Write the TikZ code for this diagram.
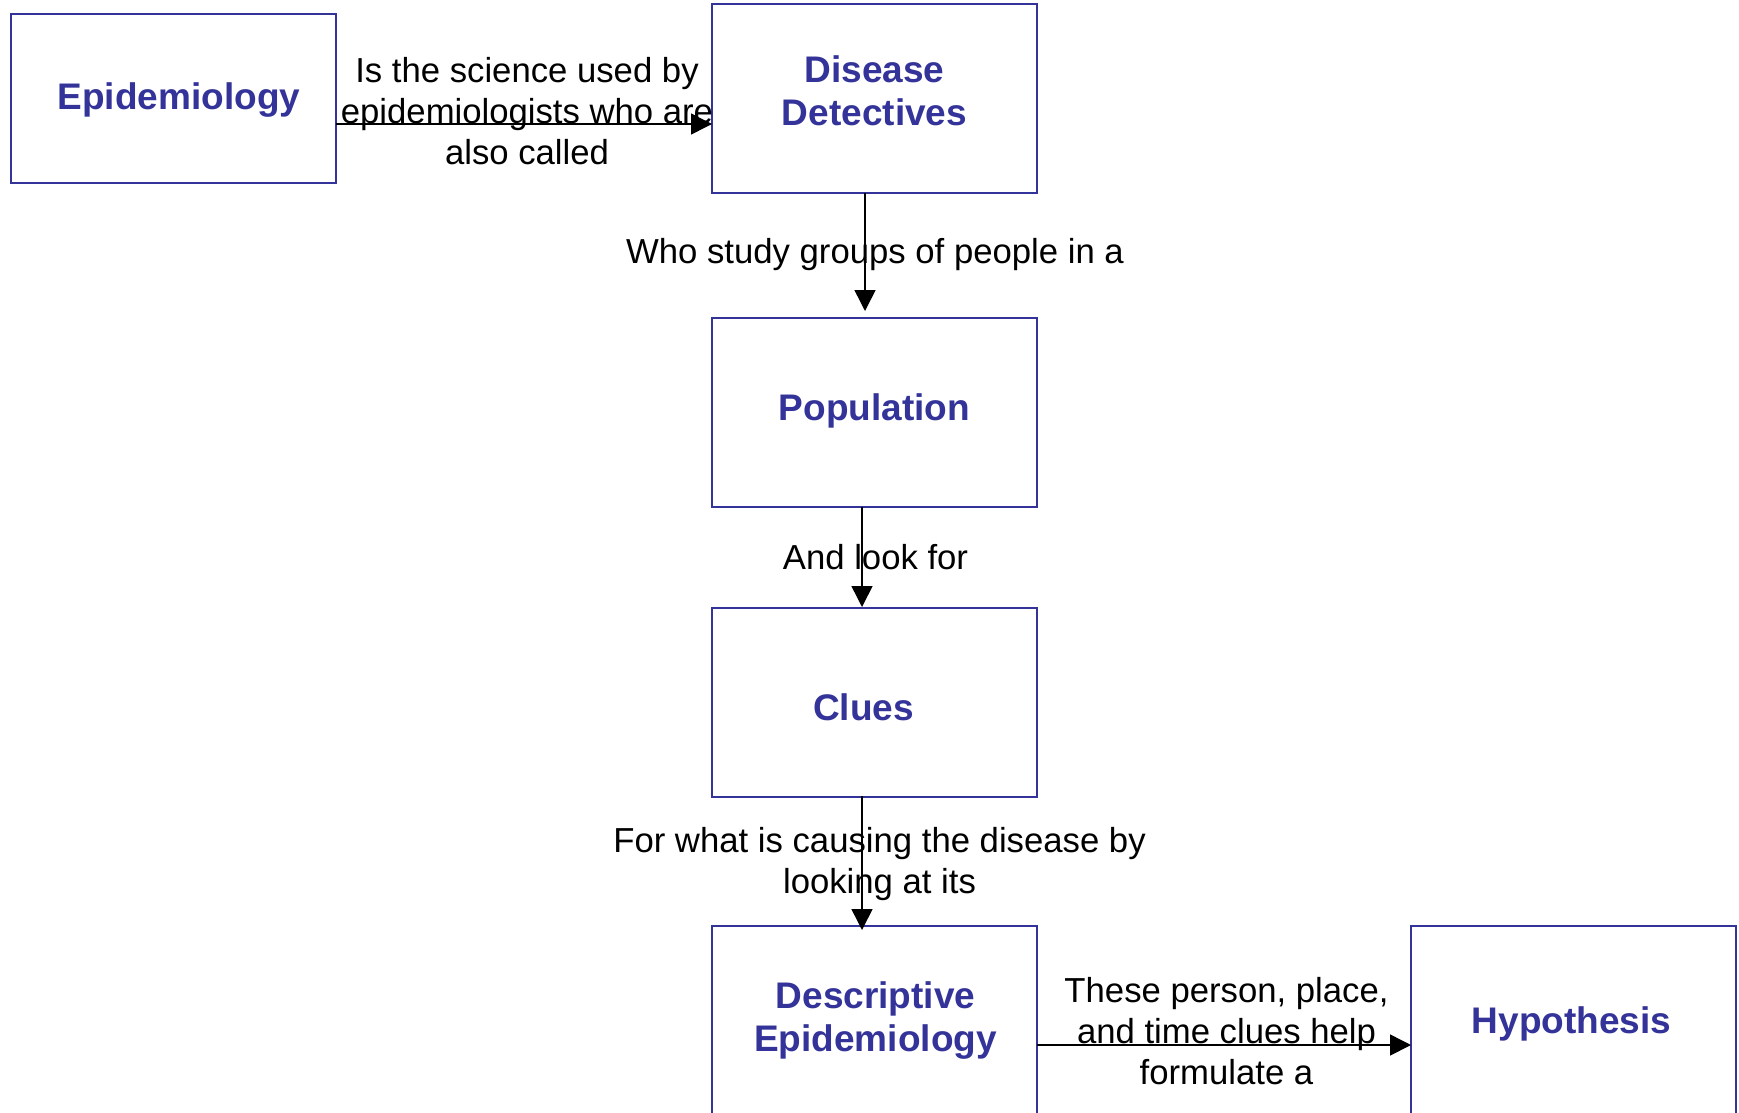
\documentclass[tikz,border=0pt]{standalone}
\usepackage{fontspec}
\setmainfont{Liberation Sans}
\usetikzlibrary{arrows.meta}
\definecolor{navy}{HTML}{333399}
\tikzset{
  box/.style={draw=navy, line width=1.5pt, minimum width=325pt, minimum height=189pt,
    inner sep=0pt, outer sep=0pt, anchor=north west},
  boxtxt/.style={align=center, text=navy, inner sep=0pt,
    font=\fontsize{37}{43}\selectfont\bfseries},
  conn/.style={line width=1.5pt, -{Triangle[length=21pt,width=21pt]}},
  lbl/.style={align=center, font=\fontsize{34.7}{41}\selectfont, inner sep=0pt},
}
\begin{document}
\begin{tikzpicture}[x=1pt,y=-1pt]
\useasboundingbox[fill=white] (0,0) rectangle (1739,1112);
% boxes
\node[box, minimum height=169pt] (epi) at (11,14) {};
\node[box] (det) at (712,4) {};
\node[box] (pop) at (712,318) {};
\node[box] (clu) at (712,608) {};
\node[box] (des) at (712,926) {};
\node[box] (hyp) at (1411,926) {};
% box texts
\node[boxtxt] (epit) at ([xshift=5.5pt,yshift=-2pt]epi.center) {Epidemiology};
\node[boxtxt] (dett) at ([yshift=7.5pt]det.center) {Disease\\Detectives};
\node[boxtxt] (popt) at ([yshift=2pt]pop.center) {Population};
\node[boxtxt] (clut) at ([xshift=-11pt,yshift=-5pt]clu.center) {Clues};
\node[boxtxt] (dest) at ([xshift=1pt]des.center) {Descriptive\\Epidemiology};
\node[boxtxt] (hypt) at ([xshift=-2pt,yshift=-3pt]hyp.center) {Hypothesis};
% connectors
\draw[conn] ([yshift=-25.5pt]epi.east) -- ([yshift=-25.5pt]det.west);
\draw[conn] ([xshift=-9.5pt]det.south) -- ([xshift=-9.5pt,yshift=7pt]pop.north);
\draw[conn] ([xshift=-12.5pt]pop.south) -- ([xshift=-12.5pt,yshift=1pt]clu.north);
\draw[conn] ([xshift=-12.5pt,yshift=1pt]clu.south) -- ([xshift=-12.5pt,yshift=-4pt]des.north);
\draw[conn] ([yshift=-24.5pt]des.east) -- ([yshift=-24.5pt]hyp.west);
% labels
\node[lbl] (l1) at (527,111) {Is the science used by\\epidemiologists who are\\also called};
\node[lbl] (l2) at (875,254.5) {Who study groups of people in a};
\node[lbl] (l3) at (875.5,557) {And look for};
\node[lbl] (l4) at (879.5,864.5) {For what is causing the disease by\\looking at its};
\node[lbl] (l5) at (1226.5,1031) {These person, place,\\and time clues help\\formulate a};
\end{tikzpicture}
\end{document}
